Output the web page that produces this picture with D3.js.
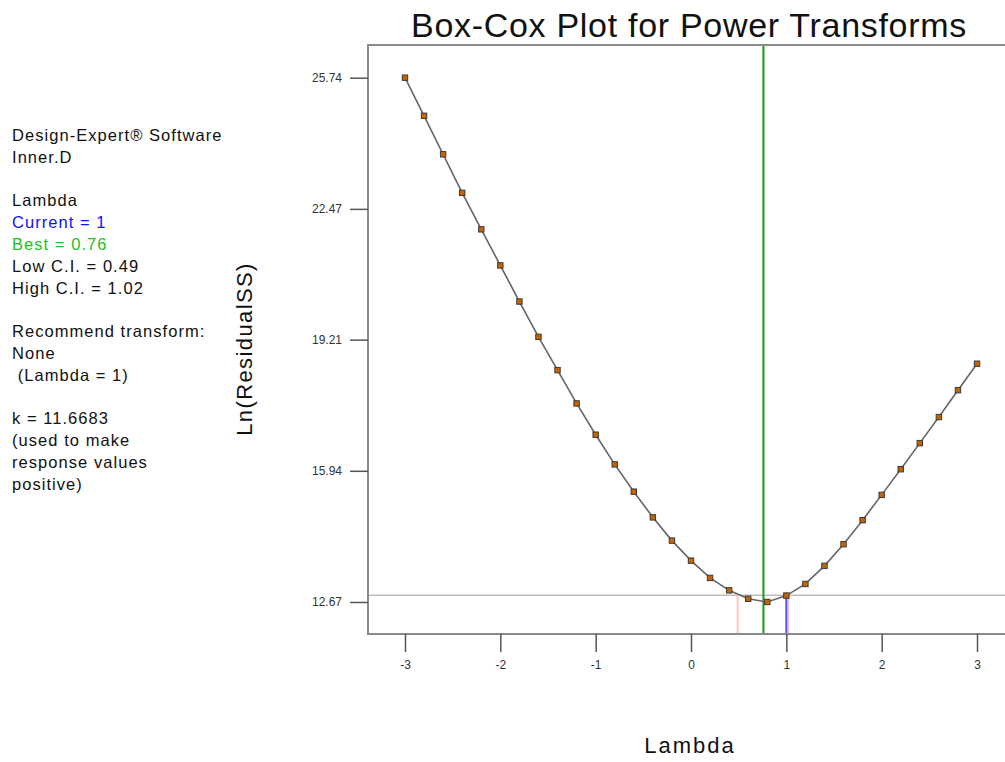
<!DOCTYPE html>
<html>
<head>
<meta charset="utf-8">
<script src="https://cdn.jsdelivr.net/npm/d3@7"></script>
<style>
  html, body { margin: 0; padding: 0; background: #fff; }
  svg { display: block; font-family: "Liberation Sans", Arial, sans-serif; }
</style>
</head>
<body>
<script>
// Box-Cox profile: Ln(ResidualSS) evaluated at lambda = -3 .. 3, step 0.2
const lambdas = [-3.0, -2.8, -2.6, -2.4, -2.2, -2.0, -1.8, -1.6, -1.4, -1.2, -1.0,
                 -0.8, -0.6, -0.4, -0.2, 0.0, 0.2, 0.4, 0.6, 0.8, 1.0,
                 1.2, 1.4, 1.6, 1.8, 2.0, 2.2, 2.4, 2.6, 2.8, 3.0];
const lnResidualSS = [25.74, 24.79, 23.83, 22.87, 21.96, 21.06, 20.16, 19.28, 18.45, 17.62, 16.84,
                      16.10, 15.42, 14.78, 14.20, 13.70, 13.27, 12.96, 12.75, 12.67, 12.83,
                      13.12, 13.57, 14.11, 14.71, 15.34, 15.98, 16.63, 17.28, 17.95, 18.61];

const xTicks = [-3, -2, -1, 0, 1, 2, 3];
const yTicks = [12.67, 15.94, 19.21, 22.47, 25.74];

const lambdaCurrent = 1;
const lambdaBest = 0.76;
const lowCI = 0.49;
const highCI = 1.02;
const ciThreshold = 12.84;

const infoLines = [
  {t: "Design-Expert\u00AE Software", c: "#111"},
  {t: "Inner.D", c: "#111"},
  {t: "", c: "#111"},
  {t: "Lambda", c: "#111"},
  {t: "Current = 1", c: "#1010ff"},
  {t: "Best = 0.76", c: "#22c022"},
  {t: "Low C.I. = 0.49", c: "#111"},
  {t: "High C.I. = 1.02", c: "#111"},
  {t: "", c: "#111"},
  {t: "Recommend transform:", c: "#111"},
  {t: "None", c: "#111"},
  {t: "\u00A0(Lambda = 1)", c: "#111"},
  {t: "", c: "#111"},
  {t: "k = 11.6683", c: "#111"},
  {t: "(used to make", c: "#111"},
  {t: "response values", c: "#111"},
  {t: "positive)", c: "#111"}
];

const W = 1005, H = 762;
const svg = d3.select("body").append("svg").attr("width", W).attr("height", H);

const plot = {left: 368, right: 1014, top: 45, bottom: 634};
const x = d3.scaleLinear().domain([-3.388, 3.388]).range([plot.left, plot.right]);
const y = d3.scaleLinear().domain([11.872, 26.555]).range([plot.bottom, plot.top]);

// Title
svg.append("text")
  .attr("x", 689).attr("y", 37)
  .attr("text-anchor", "middle")
  .attr("font-size", 34)
  .attr("letter-spacing", 0.7)
  .attr("fill", "#111")
  .text("Box-Cox Plot for Power Transforms");

// Side information block
const info = svg.append("text")
  .attr("x", 12).attr("y", 141)
  .attr("font-size", 16.5)
  .attr("letter-spacing", 1.05);
infoLines.forEach((d, i) => {
  info.append("tspan")
    .attr("x", 12)
    .attr("y", 141 + i * 21.8)
    .attr("fill", d.c)
    .text(d.t === "" ? "\u00A0" : d.t);
});

// Confidence threshold line
svg.append("line")
  .attr("x1", plot.left).attr("x2", W)
  .attr("y1", y(ciThreshold)).attr("y2", y(ciThreshold))
  .attr("stroke", "#bdbdbd").attr("stroke-width", 1.5);

// Confidence interval limits
[lowCI, highCI].forEach(v => {
  svg.append("line")
    .attr("x1", x(v)).attr("x2", x(v))
    .attr("y1", plot.bottom).attr("y2", y(ciThreshold))
    .attr("stroke", "#ffc4c4").attr("stroke-width", 2);
});

// Current lambda
svg.append("line")
  .attr("x1", x(lambdaCurrent)).attr("x2", x(lambdaCurrent))
  .attr("y1", plot.bottom).attr("y2", y(lnResidualSS[lambdas.indexOf(lambdaCurrent)]))
  .attr("stroke", "#5050ff").attr("stroke-width", 2);

// Best lambda
svg.append("line")
  .attr("x1", x(lambdaBest)).attr("x2", x(lambdaBest))
  .attr("y1", plot.bottom).attr("y2", plot.top)
  .attr("stroke", "#10a010").attr("stroke-width", 2);

// Frame
const frame = svg.append("g").attr("stroke", "#8a8a8a").attr("stroke-width", 2).attr("fill", "none");
frame.append("path")
  .attr("d", `M${W},${plot.top}H${plot.left}V${plot.bottom}H${W}`);

// Axes (plain hyphen for negative labels)
const fmtInt = d => String(d);
const xAxis = svg.append("g")
  .attr("transform", `translate(0,${plot.bottom})`)
  .call(d3.axisBottom(x).tickValues(xTicks).tickFormat(fmtInt).tickSize(18).tickPadding(8));
const yAxis = svg.append("g")
  .attr("transform", `translate(${plot.left},0)`)
  .call(d3.axisLeft(y).tickValues(yTicks).tickFormat(d => d.toFixed(2)).tickSize(18).tickPadding(8));
[xAxis, yAxis].forEach(g => {
  g.select(".domain").remove();
  g.selectAll(".tick line").attr("stroke", "#555").attr("stroke-width", 1.5);
  g.selectAll(".tick text")
    .attr("font-family", "'Liberation Sans', Arial, sans-serif")
    .attr("font-size", 12).attr("fill", "#333");
});

// Axis titles
svg.append("text")
  .attr("x", 690).attr("y", 753)
  .attr("text-anchor", "middle")
  .attr("font-size", 22).attr("letter-spacing", 2)
  .attr("fill", "#111")
  .text("Lambda");
svg.append("text")
  .attr("transform", "translate(252,349) rotate(-90)")
  .attr("text-anchor", "middle")
  .attr("font-size", 22).attr("letter-spacing", 1.4)
  .attr("fill", "#111")
  .text("Ln(ResidualSS)");

// Profile curve and points
const pts = lambdas.map((l, i) => [l, lnResidualSS[i]]);
svg.append("path")
  .datum(pts)
  .attr("fill", "none")
  .attr("stroke", "#666")
  .attr("stroke-width", 1.6)
  .attr("d", d3.line().x(d => x(d[0])).y(d => y(d[1])));

svg.append("g").selectAll("rect")
  .data(pts)
  .join("rect")
  .attr("x", d => x(d[0]) - 2.7)
  .attr("y", d => y(d[1]) - 2.7)
  .attr("width", 5.4).attr("height", 5.4)
  .attr("fill", "#c86400")
  .attr("stroke", "#3a3a3a").attr("stroke-width", 1);
</script>
</body>
</html>
